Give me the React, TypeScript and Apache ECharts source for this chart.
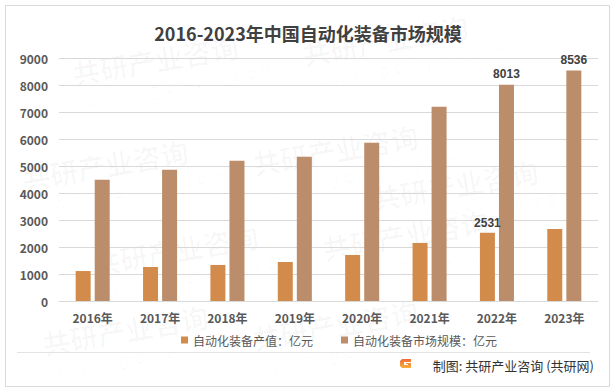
import React, { useEffect, useRef } from "react";
import * as echarts from "echarts";

const categories = ["2016年", "2017年", "2018年", "2019年", "2020年", "2021年", "2022年", "2023年"];
const outputValues = [1110, 1260, 1335, 1445, 1705, 2150, 2531, 2670];
const marketValues = [4490, 4860, 5190, 5340, 5860, 7190, 8013, 8536];
const outputLabelShown = [false, false, false, false, false, false, true, false];
const marketLabelShown = [false, false, false, false, false, false, true, true];
const seriesNames = ["自动化装备产值：亿元", "自动化装备市场规模：亿元"];
const titleText = "2016-2023年中国自动化装备市场规模";
const footerText = "制图: 共研产业咨询 (共研网)";

const watermarkSpots = [
  [70, 60], [300, 40], [20, 165], [250, 150], [370, 185],
  [90, 250], [320, 235], [40, 330], [250, 325],
];

export default function App() {
  const ref = useRef<HTMLDivElement>(null);
  useEffect(() => {
    if (!ref.current) return;
    const chart = echarts.init(ref.current, null, { renderer: "svg" });
    const wm: any[] = [];
    watermarkSpots.forEach(([x, y]) => {
      wm.push({
        type: "text",
        x,
        y,
        rotation: 0.17,
        z: -1,
        silent: true,
        style: { text: "共研产业咨询", fill: "rgba(0,0,0,0.028)", font: "bold 28px 'Noto Sans CJK SC'" },
      });
      wm.push({
        type: "text",
        x: x + 14,
        y: y + 34,
        rotation: 0.17,
        z: -1,
        silent: true,
        style: { text: "w w w . g o n y n . c o m", fill: "rgba(0,0,0,0.028)", font: "16px 'DejaVu Sans'" },
      });
    });
    const mkData = (vals: number[], shown: boolean[]) =>
      vals.map((v, i) => (shown[i] ? { value: v, label: { show: true } } : v));
    chart.setOption({
      animation: false,
      backgroundColor: "#ffffff",
      title: {
        text: titleText,
        left: "center",
        top: 19,
        textStyle: { fontSize: 18, fontWeight: "bold", color: "#404040", fontFamily: "'Noto Sans CJK SC'" },
      },
      grid: { left: 59, right: 18, top: 58, bottom: 90, containLabel: false },
      legend: {
        left: 176,
        top: 329,
        itemWidth: 7,
        itemHeight: 7,
        itemGap: 28,
        icon: "rect",
        textStyle: { fontSize: 12, color: "#595959", fontFamily: "'Noto Sans CJK SC'" },
        data: seriesNames,
      },
      xAxis: {
        type: "category",
        data: categories,
        axisLine: { lineStyle: { color: "#d9d9d9" } },
        axisTick: { show: false },
        axisLabel: { color: "#595959", fontSize: 12, fontWeight: "bold", margin: 10, fontFamily: "'Noto Sans CJK SC'" },
      },
      yAxis: {
        type: "value",
        min: 0,
        max: 9000,
        interval: 1000,
        axisLine: { show: false },
        axisTick: { show: false },
        splitLine: { lineStyle: { color: "#d9d9d9" } },
        axisLabel: {
          color: "#595959",
          fontSize: 12,
          fontWeight: "bold",
          margin: 11,
          fontFamily: "'Noto Sans CJK SC'",
          formatter: (v: number) => String(v),
        },
      },
      series: [
        {
          name: seriesNames[0],
          type: "bar",
          data: mkData(outputValues, outputLabelShown),
          barWidth: 15,
          barGap: "27%",
          itemStyle: { color: "#D38B4C" },
          label: { show: false, position: "top", color: "#404040", fontSize: 12, fontWeight: "bold", distance: 4 },
        },
        {
          name: seriesNames[1],
          type: "bar",
          data: mkData(marketValues, marketLabelShown),
          barWidth: 15,
          barGap: "27%",
          itemStyle: { color: "#BB8D6B" },
          label: { show: false, position: "top", color: "#404040", fontSize: 12, fontWeight: "bold", distance: 5 },
        },
      ],
      graphic: [
        ...wm,
        {
          type: "rect",
          shape: { x: 5.5, y: 5.5, width: 604, height: 381 },
          style: { fill: "none", stroke: "#d9d9d9", lineWidth: 1 },
          silent: true,
        },
        {
          type: "line",
          shape: { x1: 17, y1: 352.5, x2: 590, y2: 352.5 },
          style: { stroke: "#e3e3e3", lineWidth: 1 },
          silent: true,
        },
        {
          type: "group",
          x: 400,
          y: 359,
          children: [
            {
              type: "polygon",
              shape: { points: [[0, 2], [2, 0], [11, 0], [11, 3], [4, 3], [4, 6], [8, 6], [8, 5], [6, 5], [6, 4], [11, 4], [11, 9], [2, 9], [0, 7]] },
              style: {
                fill: new echarts.graphic.LinearGradient(0, 0, 0, 1, [
                  { offset: 0, color: "#F06A3A" },
                  { offset: 1, color: "#F5B03A" },
                ]),
              },
            },
          ],
        },
        {
          type: "text",
          right: 616 - 594,
          top: 359,
          style: { text: footerText, fill: "#333333", font: "13px 'Noto Sans CJK SC'" },
        },
      ],
    });
    return () => chart.dispose();
  }, []);
  return <div ref={ref} style={{ position: "fixed", left: 0, top: 0, width: 616, height: 391 }} />;
}
